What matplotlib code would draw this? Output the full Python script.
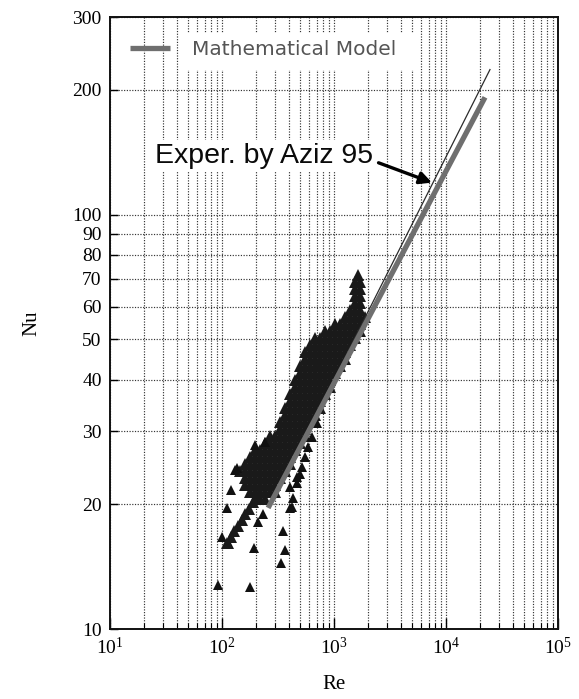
import matplotlib
matplotlib.use("Agg")
import matplotlib.pyplot as plt
from matplotlib.patches import Rectangle
from matplotlib.ticker import FixedLocator, FixedFormatter, LogLocator, NullFormatter, NullLocator

plt.rcParams["font.family"] = ["Liberation Serif", "DejaVu Serif"]
plt.rcParams["mathtext.fontset"] = "custom"
plt.rcParams["mathtext.rm"] = "Liberation Serif"
plt.rcParams["mathtext.it"] = "Liberation Serif:italic"

# ---- measured data: dense cloud, one row per Nu level ----
cloud_nu = [71.6, 68.9, 66.3, 63.7, 61.3, 58.9, 56.7, 54.5, 52.5, 50.5,
            48.5, 46.7, 44.9, 43.2, 41.5, 39.95, 38.4, 36.95, 35.5, 34.2,
            32.9, 31.6, 30.4, 29.25, 28.1, 27.1, 26.0, 25.0, 24.1, 23.2,
            22.3, 21.4, 20.6]
cloud_re = [
    [1640],
    [1540, 1707],
    [1540, 1707],
    [1540, 1707],
    [1540, 1707],
    [1390, 1540, 1707],
    [1254, 1390, 1540, 1707, 1891],
    [1021, 1131, 1254, 1390, 1540, 1707],
    [831, 921, 1021, 1131, 1254, 1390, 1540, 1707],
    [677, 750, 831, 921, 1021, 1131, 1254, 1390, 1540],
    [611, 677, 750, 831, 921, 1021, 1131, 1254, 1390],
    [551, 611, 677, 750, 831, 921, 1021, 1131, 1254],
    [551, 611, 677, 750, 831, 921, 1021, 1131, 1254],
    [497, 551, 611, 677, 750, 831, 921, 1021, 1131],
    [497, 551, 611, 677, 750, 831, 921, 1021],
    [449, 497, 551, 611, 677, 750, 831, 921],
    [449, 497, 551, 611, 677, 750, 831, 921],
    [405, 449, 497, 551, 611, 677, 750, 831],
    [405, 449, 497, 551, 611, 677, 750],
    [365, 405, 449, 497, 551, 611, 677, 750],
    [365, 405, 449, 497, 551, 611, 677],
    [330, 365, 405, 449, 497, 551, 611],
    [330, 365, 405, 449, 497, 551],
    [268, 297, 330, 365, 405, 449, 497, 551],
    [242, 268, 297, 330, 365, 405, 449, 497],
    [197, 218, 242, 268, 297, 330, 365, 405, 449],
    [178, 197, 218, 242, 268, 297, 330, 365, 405],
    [160, 178, 197, 218, 242, 268, 297, 330, 365, 405],
    [145, 160, 178, 197, 218, 242, 268, 297, 330, 365],
    [160, 178, 197, 218, 242, 268, 297, 330],
    [160, 178, 197, 218, 242, 268, 297],
    [178, 197, 218, 242, 268, 297],
    [197, 218, 242],
]

# ---- scattered individual measurements ----
single_re = [120, 111, 100, 115.5, 92, 178, 193, 210, 232, 350, 365, 336,
             405, 430, 467, 497, 136, 197, 242, 422, 405, 705, 586, 551,
             518, 636, 467, 131]
single_nu = [21.7, 19.6, 16.7, 16.0, 12.8, 12.6, 15.7, 18.1, 18.9, 17.2, 15.5, 14.4,
             19.6, 20.7, 22.5, 23.6, 24.5, 27.8, 28.3, 19.7, 22.0, 31.5, 27.5, 26.0,
             24.6, 29.1, 23.3, 24.2]

# ---- closely packed low-Re run ----
band_re = [111, 120, 128, 139, 151, 160, 174, 189, 205]
band_nu = [16.1, 16.7, 17.2, 17.7, 18.3, 18.9, 19.5, 20.2, 20.9]

# ---- correlations ----
model_re = [258, 22300]
model_nu = [19.6, 192]
aziz_re = [300, 24700]
aziz_nu = [21.0, 224]

# ---- axes ticks ----
x_ticks = [1e1, 1e2, 1e3, 1e4, 1e5]
x_labels = [r"$\mathregular{10^{1}}$", r"$\mathregular{10^{2}}$", r"$\mathregular{10^{3}}$",
            r"$\mathregular{10^{4}}$", r"$\mathregular{10^{5}}$"]
y_ticks = [10, 20, 30, 40, 50, 60, 70, 80, 90, 100, 200, 300]
y_labels = ["10", "20", "30", "40", "50", "60", "70", "80", "90", "100", "200", "300"]

fig = plt.figure(figsize=(5.79, 6.99), dpi=100)
ax = fig.add_axes([110 / 579, 70 / 699, 448 / 579, 612 / 699])
ax.set_xscale("log")
ax.set_yscale("log")
ax.set_xlim(10, 1e5)
ax.set_ylim(10, 300)
ax.set_axisbelow(True)

ax.xaxis.set_major_locator(FixedLocator(x_ticks))
ax.xaxis.set_major_formatter(FixedFormatter(x_labels))
ax.xaxis.set_minor_locator(LogLocator(base=10, subs=range(2, 10)))
ax.xaxis.set_minor_formatter(NullFormatter())
ax.yaxis.set_major_locator(FixedLocator(y_ticks))
ax.yaxis.set_major_formatter(FixedFormatter(y_labels))
ax.yaxis.set_minor_locator(NullLocator())

ax.tick_params(axis="x", which="major", direction="in", length=8, width=1.0,
               labelsize=14, pad=6)
ax.tick_params(axis="x", which="minor", direction="in", length=4, width=0.8)
ax.tick_params(axis="y", which="major", direction="in", length=6, width=1.0,
               labelsize=14, pad=6)

grid_style = dict(color="#333333", linewidth=0.85, linestyle=(0, (1, 1.3)))
ax.grid(axis="x", which="both", **grid_style)
ax.grid(axis="y", which="major", **grid_style)

for sp in ax.spines.values():
    sp.set_linewidth(1.4)
    sp.set_color("#111111")

# white panel behind the legend text
ax.add_patch(Rectangle(((185 - 110) / 448, 1 - (70 - 17) / 612), (415 - 185) / 448,
                       (70 - 33) / 612, transform=ax.transAxes,
                       facecolor="white", edgecolor="none", zorder=1))

# data cloud
pts_re = [r for row in cloud_re for r in row]
pts_nu = [n for n, row in zip(cloud_nu, cloud_re) for _ in row]
mk = dict(linestyle="none", marker="^", markersize=8.8, color="#1a1a1a",
          markeredgewidth=0, zorder=3)
ax.plot(pts_re, pts_nu, **mk)
ax.plot(single_re, single_nu, **dict(mk, markersize=7.5, color="#111111"))
ax.plot(band_re, band_nu, **mk)

ax.plot(aziz_re, aziz_nu, color="#2b2b2b", linewidth=0.9, zorder=3.5)
ax.plot(model_re, model_nu, color="#6f6f6f", linewidth=3.8,
        solid_capstyle="butt", zorder=4, label="Mathematical Model")

ax.annotate("Exper. by Aziz 95", xy=(7500, 119.5), xytext=(25.2, 133.6),
            textcoords="data", ha="left", va="baseline", fontsize=20.5,
            family="Liberation Sans", color="#0a0a0a", zorder=6,
            bbox=dict(facecolor="white", edgecolor="none", pad=2),
            arrowprops=dict(arrowstyle="-|>", color="black", lw=2.4,
                            mutation_scale=18, shrinkA=2, shrinkB=0,
                            relpos=(1.0, 0.3)))

leg = ax.legend(loc="upper left", bbox_to_anchor=((122 - 110) / 448, 1 - (32 - 17) / 612),
                borderaxespad=0, frameon=False, handlelength=2.0, handletextpad=1.1,
                borderpad=0.4, prop={"family": "DejaVu Sans", "size": 14.5})
for t in leg.get_texts():
    t.set_color("#555555")

ax.set_xlabel("Re", fontsize=15, labelpad=12)
ax.set_ylabel("Nu", fontsize=15, labelpad=22)

fig.savefig("out.png", dpi=100)
